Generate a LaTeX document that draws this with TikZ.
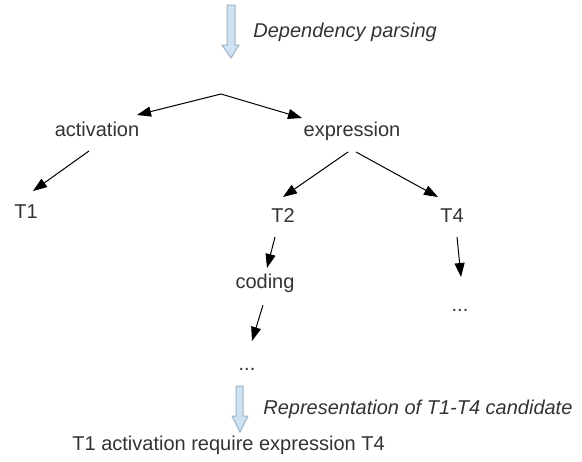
\documentclass[tikz,border=0pt]{standalone}
\usepackage{fontspec}
\setmainfont{Liberation Sans}
\usetikzlibrary{arrows.meta}
\definecolor{textgray}{HTML}{333333}
\definecolor{flowblue}{HTML}{CFE2F3}
\definecolor{flowedge}{HTML}{9FB3C4}

\begin{document}
\begin{tikzpicture}[x=0.5pt,y=-0.5pt,
    word/.style={anchor=base,text=textgray,inner sep=0pt,font=\fontsize{10}{12}\selectfont},
    note/.style={word,anchor=base west,font=\fontsize{10}{12}\selectfont\itshape},
    dep/.style={-{Triangle[length=7pt,width=5pt]},line width=0.5pt},
    bigarrow/.style={draw=flowedge,fill=flowblue,line width=0.5pt}]
    \useasboundingbox (0,0) rectangle (582,461);

    % block arrows
    \draw[bigarrow] (227,5) -- (235,5) -- (235,45) -- (239,45) -- (231,58) -- (222,45) -- (227,45) -- cycle;
    \draw[bigarrow] (236,386) -- (243,386) -- (243,416) -- (248,416) -- (240,432) -- (232,416) -- (236,416) -- cycle;
    \node[note] (parsing) at (253,37) {Dependency parsing};
    \node[note] (repr) at (263,414) {Representation of T1-T4 candidate};

    % tree
    \coordinate (root) at (221,94);
    \node[word] (activation) at (97,136) {activation};
    \node[word] (expression) at (352,136) {expression};
    \node[word] (t1) at (26,218) {T1};
    \node[word] (t2) at (283,222) {T2};
    \node[word] (t4) at (452,222) {T4};
    \node[word] (coding) at (265,288) {coding};
    \node[word] (dotsa) at (247,370) {...};
    \node[word] (dotsb) at (460,311) {...};

    \draw[dep] (root) -- ([shift={(40,-21)}]activation.base);
    \draw[dep] (root) -- ([shift={(-50,-18)}]expression.base);
    \draw[dep] ([shift={(-8,15)}]activation.base) -- ([shift={(7,-27)}]t1.base);
    \draw[dep] ([shift={(-4,16)}]expression.base) -- ([shift={(0,-25)}]t2.base);
    \draw[dep] ([shift={(4,16)}]expression.base) -- ([shift={(-14,-25)}]t4.base);
    \draw[dep] ([shift={(-8,15)}]t2.base) -- ([shift={(2,-20)}]coding.base);
    \draw[dep] ([shift={(-2,17)}]coding.base) -- ([shift={(5,-29)}]dotsa.base);
    \draw[dep] ([shift={(5,15)}]t4.base) -- ([shift={(1,-34)}]dotsb.base);

    \node[word,anchor=base west] (result) at (72,450) {T1 activation require expression T4};
\end{tikzpicture}
\end{document}
